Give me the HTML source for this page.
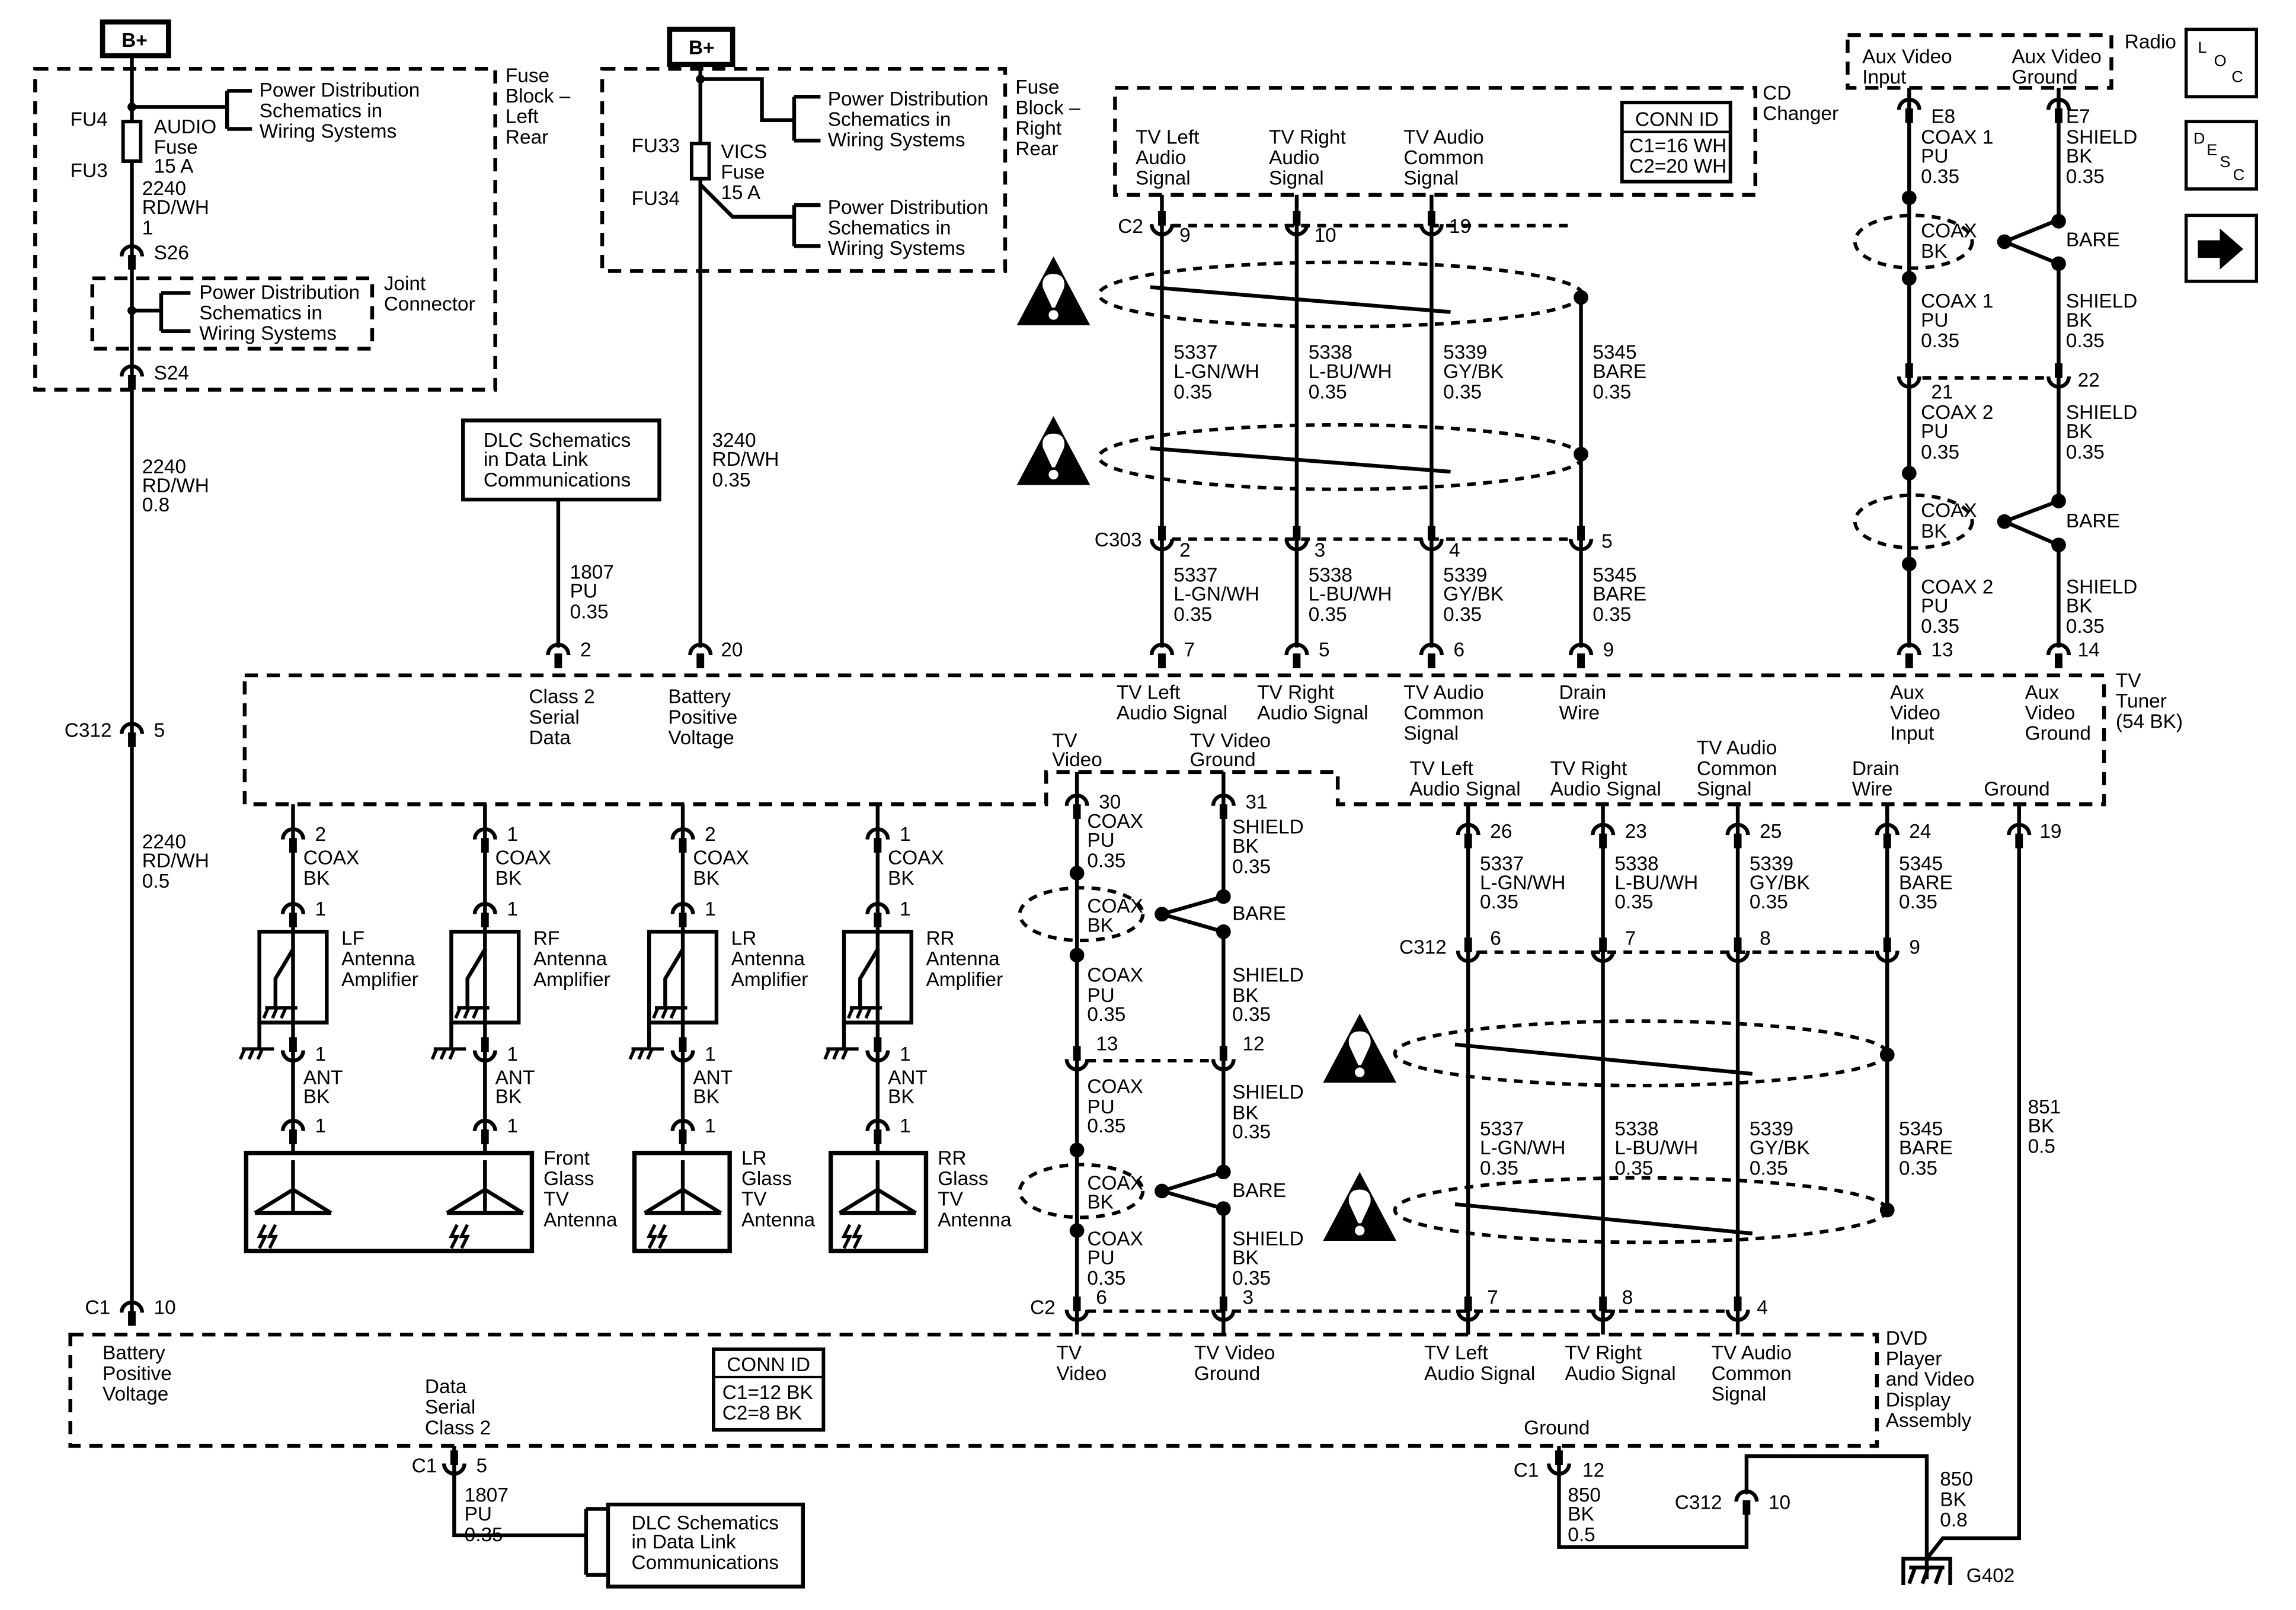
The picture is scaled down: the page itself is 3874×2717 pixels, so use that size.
<!DOCTYPE html>
<html><head><meta charset="utf-8"><style>
html,body{margin:0;padding:0;background:#fff}
svg{display:block}
text{font-family:"Liberation Sans",Arial,sans-serif;font-size:13.5px;fill:#000}
.w{stroke:#000;stroke-width:2.6;fill:none}
.d{stroke:#000;stroke-width:2.6;fill:none;stroke-dasharray:9 6}
.dt{stroke:#000;stroke-width:2.4;fill:none;stroke-dasharray:6 5}
</style></head><body>
<svg width="3874" height="2717" viewBox="0 0 1567 1099" preserveAspectRatio="none" xmlns="http://www.w3.org/2000/svg">
<defs>
<g id="ar"><path d="M-7 5 A7 7 0 0 1 7 5" stroke="#000" stroke-width="2.6" fill="none"/><rect x="-2.6" y="4" width="5.2" height="10" fill="#000"/></g>
<g id="cu"><rect x="-2.6" y="-14" width="5.2" height="10" fill="#000"/><path d="M-7 -5 A7 7 0 0 0 7 -5" stroke="#000" stroke-width="2.6" fill="none"/></g>
<g id="warn"><path d="M0 -28 L25 19 L-25 19 Z" fill="#000"/><path d="M0 -16 C-8 -16 -8 -9 -7 -6 L-1 7 H1 L7 -6 C8 -9 8 -16 0 -16 Z" fill="#fff"/><circle cx="0" cy="12" r="3.3" fill="#fff"/></g>
<g id="gnd"><path d="M-11 0 H11 M-9 0 L-12 7 M-3 0 L-6 7 M3 0 L0 7" stroke="#000" stroke-width="2.2" fill="none"/></g>
<g id="amp"><rect x="-23" y="0" width="46" height="62" class="w" stroke-width="3"/><path d="M0 12 L-12 32 V52" class="w"/><use href="#gnd" x="-8" y="52"/></g>
<g id="ant"><path d="M0 0 V36 M-26 36 H26 M-26 36 L0 20 L26 36" class="w"/><path d="M-19 44 L-23 52 H-19 L-23 60 M-12 44 L-16 52 H-12 L-16 60" stroke="#000" stroke-width="2.2" fill="none"/></g>
</defs>

<!-- ===== LEFT FUSE ===== -->
<rect x="70" y="15" width="45" height="23" fill="#fff" stroke="#000" stroke-width="3.5"/>
<text x="83" y="32" font-weight="bold">B+</text>
<path class="d" d="M24 47 H338 V266 H24 Z"/>
<path class="w" d="M90 38 V895"/>
<rect x="84" y="83" width="12" height="27" fill="#fff" stroke="#000" stroke-width="2.4"/>
<circle cx="90" cy="73" r="3" fill="#000"/>
<path class="w" d="M90 73 H155 M155 62 V88 M155 62 H172 M155 88 H172"/>
<text x="177" y="66">Power Distribution</text><text x="177" y="80">Schematics in</text><text x="177" y="94">Wiring Systems</text>
<text x="48" y="86">FU4</text><text x="48" y="121">FU3</text>
<text x="105" y="91">AUDIO</text><text x="105" y="105">Fuse</text><text x="105" y="118">15 A</text>
<text x="97" y="133">2240</text><text x="97" y="146">RD/WH</text><text x="97" y="160">1</text>
<use href="#ar" x="90" y="170"/><text x="105" y="177">S26</text>
<path class="d" d="M63 190 H254 V238 H63 Z"/>
<circle cx="90" cy="212" r="3" fill="#000"/>
<path class="w" d="M90 212 H110 M110 200 V226 M110 200 H130 M110 226 H130"/>
<text x="136" y="204">Power Distribution</text><text x="136" y="218">Schematics in</text><text x="136" y="232">Wiring Systems</text>
<text x="262" y="198">Joint</text><text x="262" y="212">Connector</text>
<use href="#ar" x="90" y="252"/><text x="105" y="259">S24</text>
<text x="345" y="56">Fuse</text><text x="345" y="70">Block –</text><text x="345" y="84">Left</text><text x="345" y="98">Rear</text>
<text x="97" y="323">2240</text><text x="97" y="336">RD/WH</text><text x="97" y="349">0.8</text>
<use href="#ar" x="90" y="496"/><text x="44" y="503">C312</text><text x="105" y="503">5</text>
<text x="97" y="579">2240</text><text x="97" y="592">RD/WH</text><text x="97" y="606">0.5</text>
<use href="#ar" x="90" y="891"/><text x="58" y="897">C1</text><text x="105" y="897">10</text>

<!-- ===== RIGHT FUSE ===== -->
<rect x="457" y="20" width="43" height="24" fill="#fff" stroke="#000" stroke-width="3.5"/>
<text x="470" y="37" font-weight="bold">B+</text>
<path class="d" d="M411 47 H686 V185 H411 Z"/>
<path class="w" d="M478 44 V442"/>
<circle cx="478" cy="54" r="3" fill="#000"/>
<path class="w" d="M478 54 H520 V82 H542 M542 66 V96 M542 66 H560 M542 96 H560"/>
<rect x="472" y="98" width="12" height="24" fill="#fff" stroke="#000" stroke-width="2.4"/>
<path class="w" d="M478 126 L500 148 H542 M542 140 V168 M542 140 H560 M542 168 H560"/>
<text x="565" y="72">Power Distribution</text><text x="565" y="86">Schematics in</text><text x="565" y="100">Wiring Systems</text>
<text x="565" y="146">Power Distribution</text><text x="565" y="160">Schematics in</text><text x="565" y="174">Wiring Systems</text>
<text x="431" y="104">FU33</text><text x="431" y="140">FU34</text>
<text x="492" y="108">VICS</text><text x="492" y="122">Fuse</text><text x="492" y="136">15 A</text>
<text x="693" y="64">Fuse</text><text x="693" y="78">Block –</text><text x="693" y="92">Right</text><text x="693" y="106">Rear</text>
<text x="486" y="305">3240</text><text x="486" y="318">RD/WH</text><text x="486" y="332">0.35</text>
<use href="#ar" x="478" y="442"/><text x="492" y="448">20</text>
<rect x="316" y="287" width="134" height="54" fill="#fff" stroke="#000" stroke-width="2.6"/>
<text x="330" y="305">DLC Schematics</text><text x="330" y="318">in Data Link</text><text x="330" y="332">Communications</text>
<path class="w" d="M381 341 V442"/>
<text x="389" y="395">1807</text><text x="389" y="408">PU</text><text x="389" y="422">0.35</text>
<use href="#ar" x="381" y="442"/><text x="396" y="448">2</text>

<!-- ===== TV TUNER BOX ===== -->
<path class="d" d="M167 461 H1436 V549 H913 V527 H714 V549 H167 Z"/>
<text x="361" y="480">Class 2</text><text x="361" y="494">Serial</text><text x="361" y="508">Data</text>
<text x="456" y="480">Battery</text><text x="456" y="494">Positive</text><text x="456" y="508">Voltage</text>
<text x="762" y="477">TV Left</text><text x="762" y="491">Audio Signal</text>
<text x="858" y="477">TV Right</text><text x="858" y="491">Audio Signal</text>
<text x="958" y="477">TV Audio</text><text x="958" y="491">Common</text><text x="958" y="505">Signal</text>
<text x="1064" y="477">Drain</text><text x="1064" y="491">Wire</text>
<text x="1290" y="477">Aux</text><text x="1290" y="491">Video</text><text x="1290" y="505">Input</text>
<text x="1382" y="477">Aux</text><text x="1382" y="491">Video</text><text x="1382" y="505">Ground</text>
<text x="1444" y="469">TV</text><text x="1444" y="483">Tuner</text><text x="1444" y="497">(54 BK)</text>
<text x="718" y="510">TV</text><text x="718" y="523">Video</text>
<text x="812" y="510">TV Video</text><text x="812" y="523">Ground</text>
<text x="962" y="529">TV Left</text><text x="962" y="543">Audio Signal</text>
<text x="1058" y="529">TV Right</text><text x="1058" y="543">Audio Signal</text>
<text x="1158" y="515">TV Audio</text><text x="1158" y="529">Common</text><text x="1158" y="543">Signal</text>
<text x="1264" y="529">Drain</text><text x="1264" y="543">Wire</text>
<text x="1354" y="543">Ground</text>

<!-- ===== CD CHANGER ===== -->
<path class="d" d="M761 60 H1198 V133 H761 Z"/>
<rect x="1107" y="70" width="74" height="54" fill="#fff" stroke="#000" stroke-width="2.4"/>
<text x="1116" y="86">CONN ID</text><path d="M1107 90 H1181" stroke="#000" stroke-width="1.6"/>
<text x="1112" y="104">C1=16 WH</text><text x="1112" y="118">C2=20 WH</text>
<text x="1203" y="68">CD</text><text x="1203" y="82">Changer</text>
<text x="775" y="98">TV Left</text><text x="775" y="112">Audio</text><text x="775" y="126">Signal</text>
<text x="866" y="98">TV Right</text><text x="866" y="112">Audio</text><text x="866" y="126">Signal</text>
<text x="958" y="98">TV Audio</text><text x="958" y="112">Common</text><text x="958" y="126">Signal</text>
<path class="w" d="M793 133 V442 M885 133 V442 M977 133 V442 M1079 203 V442"/>
<path class="dt" d="M800 154 H1072"/>
<use href="#cu" x="793" y="158"/><use href="#cu" x="885" y="158"/><use href="#cu" x="977" y="158"/>
<text x="763" y="159">C2</text><text x="805" y="165">9</text><text x="897" y="165">10</text><text x="989" y="159">19</text>
<ellipse class="dt" cx="915" cy="201" rx="165" ry="22"/>
<ellipse class="dt" cx="915" cy="312" rx="165" ry="22"/>
<path class="w" d="M785 196 L990 213 M785 306 L990 322"/>
<circle cx="1079" cy="203" r="5" fill="#000"/><circle cx="1079" cy="310" r="5" fill="#000"/>
<use href="#warn" x="719" y="203"/><use href="#warn" x="719" y="312"/>
<text x="801" y="245">5337</text><text x="801" y="258">L-GN/WH</text><text x="801" y="272">0.35</text>
<text x="893" y="245">5338</text><text x="893" y="258">L-BU/WH</text><text x="893" y="272">0.35</text>
<text x="985" y="245">5339</text><text x="985" y="258">GY/BK</text><text x="985" y="272">0.35</text>
<text x="1087" y="245">5345</text><text x="1087" y="258">BARE</text><text x="1087" y="272">0.35</text>
<path class="dt" d="M800 368 H1072"/>
<use href="#cu" x="793" y="373"/><use href="#cu" x="885" y="373"/><use href="#cu" x="977" y="373"/><use href="#cu" x="1079" y="373"/>
<text x="747" y="373">C303</text><text x="805" y="380">2</text><text x="897" y="380">3</text><text x="989" y="380">4</text><text x="1093" y="374">5</text>
<text x="801" y="397">5337</text><text x="801" y="410">L-GN/WH</text><text x="801" y="424">0.35</text>
<text x="893" y="397">5338</text><text x="893" y="410">L-BU/WH</text><text x="893" y="424">0.35</text>
<text x="985" y="397">5339</text><text x="985" y="410">GY/BK</text><text x="985" y="424">0.35</text>
<text x="1087" y="397">5345</text><text x="1087" y="410">BARE</text><text x="1087" y="424">0.35</text>
<use href="#ar" x="793" y="442"/><use href="#ar" x="885" y="442"/><use href="#ar" x="977" y="442"/><use href="#ar" x="1079" y="442"/>
<text x="808" y="448">7</text><text x="900" y="448">5</text><text x="992" y="448">6</text><text x="1094" y="448">9</text>

<!-- ===== AUX / RADIO ===== -->
<path class="d" d="M1261 24 H1441 V60 H1261 Z"/>
<text x="1271" y="43">Aux Video</text><text x="1271" y="57">Input</text>
<text x="1373" y="43">Aux Video</text><text x="1373" y="57">Ground</text>
<text x="1450" y="33">Radio</text>
<path class="w" d="M1303 60 V442 M1405 60 V150 M1405 180 V342 M1405 372 V442"/>
<use href="#ar" x="1303" y="70"/><use href="#ar" x="1405" y="70"/>
<text x="1318" y="84">E8</text><text x="1410" y="84">E7</text>
<text x="1311" y="98">COAX 1</text><text x="1311" y="111">PU</text><text x="1311" y="125">0.35</text>
<text x="1410" y="98">SHIELD</text><text x="1410" y="111">BK</text><text x="1410" y="125">0.35</text>
<circle cx="1303" cy="135" r="5" fill="#000"/><circle cx="1303" cy="190" r="5" fill="#000"/>
<ellipse class="dt" cx="1306" cy="165" rx="40" ry="18"/>
<text x="1311" y="162">COAX</text><text x="1311" y="176">BK</text>
<circle cx="1368" cy="165" r="5" fill="#000"/>
<path class="w" d="M1368 165 L1405 150 M1368 165 L1405 180"/>
<circle cx="1405" cy="151" r="5" fill="#000"/><circle cx="1405" cy="180" r="5" fill="#000"/>
<text x="1410" y="168">BARE</text>
<text x="1311" y="210">COAX 1</text><text x="1311" y="223">PU</text><text x="1311" y="237">0.35</text>
<text x="1410" y="210">SHIELD</text><text x="1410" y="223">BK</text><text x="1410" y="237">0.35</text>
<path class="dt" d="M1312 258 H1398"/>
<use href="#cu" x="1303" y="262"/><use href="#cu" x="1405" y="262"/>
<text x="1318" y="272">21</text><text x="1418" y="264">22</text>
<text x="1311" y="286">COAX 2</text><text x="1311" y="299">PU</text><text x="1311" y="313">0.35</text>
<text x="1410" y="286">SHIELD</text><text x="1410" y="299">BK</text><text x="1410" y="313">0.35</text>
<circle cx="1303" cy="323" r="5" fill="#000"/><circle cx="1303" cy="385" r="5" fill="#000"/>
<ellipse class="dt" cx="1306" cy="356" rx="40" ry="18"/>
<text x="1311" y="353">COAX</text><text x="1311" y="367">BK</text>
<circle cx="1368" cy="356" r="5" fill="#000"/>
<path class="w" d="M1368 356 L1405 342 M1368 356 L1405 372"/>
<circle cx="1405" cy="342" r="5" fill="#000"/><circle cx="1405" cy="372" r="5" fill="#000"/>
<text x="1410" y="360">BARE</text>
<text x="1311" y="405">COAX 2</text><text x="1311" y="418">PU</text><text x="1311" y="432">0.35</text>
<text x="1410" y="405">SHIELD</text><text x="1410" y="418">BK</text><text x="1410" y="432">0.35</text>
<use href="#ar" x="1303" y="442"/><use href="#ar" x="1405" y="442"/>
<text x="1318" y="448">13</text><text x="1418" y="448">14</text>

<!-- LOC/DESC/arrow -->
<rect x="1492" y="20" width="48" height="46" fill="#fff" stroke="#000" stroke-width="2.2"/>
<text x="1500" y="36" style="font-size:11px">L</text><text x="1511" y="45" style="font-size:11px">O</text><text x="1523" y="56" style="font-size:11px">C</text>
<rect x="1492" y="83" width="48" height="46" fill="#fff" stroke="#000" stroke-width="2.2"/>
<text x="1497" y="98" style="font-size:11px">D</text><text x="1506" y="106" style="font-size:11px">E</text><text x="1515" y="114" style="font-size:11px">S</text><text x="1524" y="123" style="font-size:11px">C</text>
<rect x="1492" y="147" width="48" height="45" fill="#fff" stroke="#000" stroke-width="2.2"/>
<path d="M1500 164 H1515 V156 L1531 170 L1515 184 V176 H1500 Z" fill="#000"/>

<!-- ===== ANTENNAS ===== -->
<path class="w" d="M200 549 V787 M331 549 V787 M466 549 V787 M599 549 V787"/>
<g>
<use href="#ar" x="200" y="568"/><use href="#ar" x="331" y="568"/><use href="#ar" x="466" y="568"/><use href="#ar" x="599" y="568"/>
<text x="215" y="574">2</text><text x="346" y="574">1</text><text x="481" y="574">2</text><text x="614" y="574">1</text>
<text x="207" y="590">COAX</text><text x="207" y="604">BK</text>
<text x="338" y="590">COAX</text><text x="338" y="604">BK</text>
<text x="473" y="590">COAX</text><text x="473" y="604">BK</text>
<text x="606" y="590">COAX</text><text x="606" y="604">BK</text>
<use href="#ar" x="200" y="619"/><use href="#ar" x="331" y="619"/><use href="#ar" x="466" y="619"/><use href="#ar" x="599" y="619"/>
<text x="215" y="625">1</text><text x="346" y="625">1</text><text x="481" y="625">1</text><text x="614" y="625">1</text>
<use href="#amp" x="200" y="636"/><use href="#amp" x="331" y="636"/><use href="#amp" x="466" y="636"/><use href="#amp" x="599" y="636"/>
<path class="w" d="M177 698 V716 M308 698 V716 M443 698 V716 M576 698 V716"/>
<use href="#gnd" x="176" y="716"/><use href="#gnd" x="307" y="716"/><use href="#gnd" x="442" y="716"/><use href="#gnd" x="575" y="716"/>
<text x="233" y="645">LF</text><text x="233" y="659">Antenna</text><text x="233" y="673">Amplifier</text>
<text x="364" y="645">RF</text><text x="364" y="659">Antenna</text><text x="364" y="673">Amplifier</text>
<text x="499" y="645">LR</text><text x="499" y="659">Antenna</text><text x="499" y="673">Amplifier</text>
<text x="632" y="645">RR</text><text x="632" y="659">Antenna</text><text x="632" y="673">Amplifier</text>
<use href="#cu" x="200" y="722"/><use href="#cu" x="331" y="722"/><use href="#cu" x="466" y="722"/><use href="#cu" x="599" y="722"/>
<text x="215" y="724">1</text><text x="346" y="724">1</text><text x="481" y="724">1</text><text x="614" y="724">1</text>
<text x="207" y="740">ANT</text><text x="207" y="753">BK</text>
<text x="338" y="740">ANT</text><text x="338" y="753">BK</text>
<text x="473" y="740">ANT</text><text x="473" y="753">BK</text>
<text x="606" y="740">ANT</text><text x="606" y="753">BK</text>
<use href="#ar" x="200" y="767"/><use href="#ar" x="331" y="767"/><use href="#ar" x="466" y="767"/><use href="#ar" x="599" y="767"/>
<text x="215" y="773">1</text><text x="346" y="773">1</text><text x="481" y="773">1</text><text x="614" y="773">1</text>
<rect x="168" y="787" width="195" height="67" fill="none" stroke="#000" stroke-width="3"/>
<rect x="433" y="787" width="65" height="67" fill="none" stroke="#000" stroke-width="3"/>
<rect x="567" y="787" width="65" height="67" fill="none" stroke="#000" stroke-width="3"/>
<use href="#ant" x="200" y="792"/><use href="#ant" x="331" y="792"/><use href="#ant" x="466" y="792"/><use href="#ant" x="599" y="792"/>
<text x="371" y="795">Front</text><text x="371" y="809">Glass</text><text x="371" y="823">TV</text><text x="371" y="837">Antenna</text>
<text x="506" y="795">LR</text><text x="506" y="809">Glass</text><text x="506" y="823">TV</text><text x="506" y="837">Antenna</text>
<text x="640" y="795">RR</text><text x="640" y="809">Glass</text><text x="640" y="823">TV</text><text x="640" y="837">Antenna</text>
</g>

<!-- ===== TV VIDEO ===== -->
<path class="w" d="M735 527 V911 M835 527 V612 M835 636 V800 M835 825 V911"/>
<use href="#ar" x="735" y="545"/><use href="#ar" x="835" y="545"/>
<text x="750" y="552">30</text><text x="850" y="552">31</text>
<text x="742" y="565">COAX</text><text x="742" y="578">PU</text><text x="742" y="592">0.35</text>
<text x="841" y="569">SHIELD</text><text x="841" y="582">BK</text><text x="841" y="596">0.35</text>
<circle cx="735" cy="596" r="5" fill="#000"/><circle cx="735" cy="652" r="5" fill="#000"/>
<ellipse class="dt" cx="738" cy="624" rx="42" ry="18"/>
<text x="742" y="623">COAX</text><text x="742" y="636">BK</text>
<circle cx="793" cy="624" r="5" fill="#000"/>
<path class="w" d="M793 624 L835 612 M793 624 L835 636"/>
<circle cx="835" cy="612" r="5" fill="#000"/><circle cx="835" cy="636" r="5" fill="#000"/>
<text x="841" y="628">BARE</text>
<text x="742" y="670">COAX</text><text x="742" y="684">PU</text><text x="742" y="697">0.35</text>
<text x="841" y="670">SHIELD</text><text x="841" y="684">BK</text><text x="841" y="697">0.35</text>
<path class="dt" d="M742 724 H828"/>
<use href="#cu" x="735" y="728"/><use href="#cu" x="835" y="728"/>
<text x="748" y="717">13</text><text x="848" y="717">12</text>
<text x="742" y="746">COAX</text><text x="742" y="760">PU</text><text x="742" y="773">0.35</text>
<text x="841" y="750">SHIELD</text><text x="841" y="764">BK</text><text x="841" y="777">0.35</text>
<circle cx="735" cy="785" r="5" fill="#000"/><circle cx="735" cy="840" r="5" fill="#000"/>
<ellipse class="dt" cx="738" cy="813" rx="42" ry="18"/>
<text x="742" y="812">COAX</text><text x="742" y="825">BK</text>
<circle cx="793" cy="813" r="5" fill="#000"/>
<path class="w" d="M793 813 L835 800 M793 813 L835 825"/>
<circle cx="835" cy="800" r="5" fill="#000"/><circle cx="835" cy="825" r="5" fill="#000"/>
<text x="841" y="817">BARE</text>
<text x="742" y="850">COAX</text><text x="742" y="863">PU</text><text x="742" y="877">0.35</text>
<text x="841" y="850">SHIELD</text><text x="841" y="863">BK</text><text x="841" y="877">0.35</text>
<path class="dt" d="M742 895 H1180"/>
<use href="#cu" x="735" y="899"/><use href="#cu" x="835" y="899"/>
<text x="703" y="897">C2</text><text x="748" y="890">6</text><text x="848" y="890">3</text>

<!-- ===== LOWER AUDIO ===== -->
<path class="w" d="M1002 549 V911 M1094 549 V911 M1186 549 V911 M1288 549 V826"/>
<use href="#ar" x="1002" y="565"/><use href="#ar" x="1094" y="565"/><use href="#ar" x="1186" y="565"/><use href="#ar" x="1288" y="565"/>
<text x="1017" y="572">26</text><text x="1109" y="572">23</text><text x="1201" y="572">25</text><text x="1303" y="572">24</text>
<text x="1010" y="594">5337</text><text x="1010" y="607">L-GN/WH</text><text x="1010" y="620">0.35</text>
<text x="1102" y="594">5338</text><text x="1102" y="607">L-BU/WH</text><text x="1102" y="620">0.35</text>
<text x="1194" y="594">5339</text><text x="1194" y="607">GY/BK</text><text x="1194" y="620">0.35</text>
<text x="1296" y="594">5345</text><text x="1296" y="607">BARE</text><text x="1296" y="620">0.35</text>
<path class="dt" d="M1009 650 H1281"/>
<use href="#cu" x="1002" y="654"/><use href="#cu" x="1094" y="654"/><use href="#cu" x="1186" y="654"/><use href="#cu" x="1288" y="654"/>
<text x="955" y="651">C312</text><text x="1017" y="645">6</text><text x="1109" y="645">7</text><text x="1201" y="645">8</text><text x="1303" y="651">9</text>
<ellipse class="dt" cx="1120" cy="719" rx="168" ry="22"/>
<ellipse class="dt" cx="1120" cy="826" rx="168" ry="22"/>
<path class="w" d="M993 713 L1196 733 M993 822 L1196 842"/>
<circle cx="1288" cy="720" r="5" fill="#000"/><circle cx="1288" cy="826" r="5" fill="#000"/>
<use href="#warn" x="928" y="720"/><use href="#warn" x="928" y="828"/>
<text x="1010" y="775">5337</text><text x="1010" y="788">L-GN/WH</text><text x="1010" y="802">0.35</text>
<text x="1102" y="775">5338</text><text x="1102" y="788">L-BU/WH</text><text x="1102" y="802">0.35</text>
<text x="1194" y="775">5339</text><text x="1194" y="788">GY/BK</text><text x="1194" y="802">0.35</text>
<text x="1296" y="775">5345</text><text x="1296" y="788">BARE</text><text x="1296" y="802">0.35</text>
<use href="#cu" x="1002" y="899"/><use href="#cu" x="1094" y="899"/><use href="#cu" x="1186" y="899"/>
<text x="1015" y="890">7</text><text x="1107" y="890">8</text><text x="1199" y="897">4</text>
<!-- Ground wire 851 -->
<path class="w" d="M1378 549 V1050 H1326 L1315 1064"/>
<use href="#ar" x="1378" y="565"/><text x="1392" y="572">19</text>
<text x="1384" y="760">851</text><text x="1384" y="773">BK</text><text x="1384" y="787">0.5</text>

<!-- ===== DVD BOX ===== -->
<path class="d" d="M48 911 H1281 V987 H48 Z"/>
<text x="70" y="928">Battery</text><text x="70" y="942">Positive</text><text x="70" y="956">Voltage</text>
<text x="290" y="951">Data</text><text x="290" y="965">Serial</text><text x="290" y="979">Class 2</text>
<rect x="487" y="921" width="75" height="55" fill="#fff" stroke="#000" stroke-width="2.4"/>
<text x="496" y="936">CONN ID</text><path d="M487 940 H562" stroke="#000" stroke-width="1.6"/>
<text x="493" y="955">C1=12 BK</text><text x="493" y="969">C2=8 BK</text>
<text x="721" y="928">TV</text><text x="721" y="942">Video</text>
<text x="815" y="928">TV Video</text><text x="815" y="942">Ground</text>
<text x="972" y="928">TV Left</text><text x="972" y="942">Audio Signal</text>
<text x="1068" y="928">TV Right</text><text x="1068" y="942">Audio Signal</text>
<text x="1168" y="928">TV Audio</text><text x="1168" y="942">Common</text><text x="1168" y="956">Signal</text>
<text x="1040" y="979">Ground</text>
<text x="1287" y="918">DVD</text><text x="1287" y="932">Player</text><text x="1287" y="946">and Video</text><text x="1287" y="960">Display</text><text x="1287" y="974">Assembly</text>
<!-- data C1 -->
<path class="w" d="M310 987 V1048 H400 M400 1030 V1075 M400 1030 H415 M400 1075 H415"/>
<use href="#cu" x="310" y="1004"/>
<text x="281" y="1005">C1</text><text x="325" y="1005">5</text>
<text x="317" y="1025">1807</text><text x="317" y="1038">PU</text><text x="317" y="1052">0.35</text>
<rect x="415" y="1027" width="133" height="56" fill="#fff" stroke="#000" stroke-width="2.6"/>
<text x="431" y="1044">DLC Schematics</text><text x="431" y="1057">in Data Link</text><text x="431" y="1071">Communications</text>
<!-- ground C1 12 -->
<path class="w" d="M1064 987 V1056 H1192 V1030"/>
<use href="#cu" x="1064" y="1004"/>
<text x="1033" y="1008">C1</text><text x="1080" y="1008">12</text>
<text x="1070" y="1025">850</text><text x="1070" y="1038">BK</text><text x="1070" y="1052">0.5</text>
<path class="w" d="M1192 1020 V994 H1315 V1078"/>
<use href="#ar" x="1192" y="1020"/>
<text x="1143" y="1030">C312</text><text x="1207" y="1030">10</text>
<text x="1324" y="1014">850</text><text x="1324" y="1028">BK</text><text x="1324" y="1042">0.8</text>
<path class="w" d="M1299 1082 V1064 H1331 V1082 M1303 1070 H1327 M1307 1070 L1303 1081 M1316 1070 L1312 1081 M1325 1070 L1321 1081"/>
<text x="1342" y="1080">G402</text>
</svg>
</body></html>
